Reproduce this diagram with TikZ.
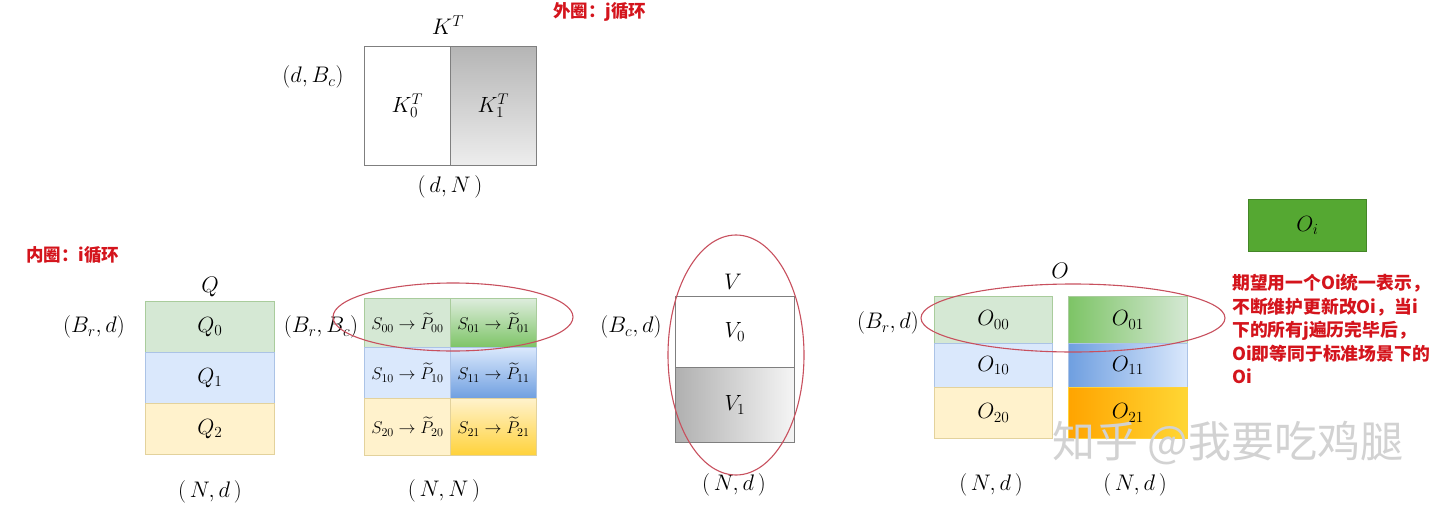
\RequirePackage{fix-cm}
\documentclass[tikz,border=0pt]{standalone}
\usepackage{amsmath}
\usepackage{fontspec}
\newfontfamily\cjk{Noto Sans CJK SC}
\usetikzlibrary{backgrounds}
\definecolor{qgreen}{HTML}{D5E8D4}
\definecolor{qblue}{HTML}{DAE8FC}
\definecolor{qyellow}{HTML}{FFF2CC}
\definecolor{edgegreen}{HTML}{A9CC9C}
\definecolor{edgeblue}{HTML}{ABC3E6}
\definecolor{edgeyellow}{HTML}{E3D29C}
\definecolor{deepgreen}{HTML}{7DC466}
\definecolor{deepblue}{HTML}{6F9FE0}
\definecolor{deepgold}{HTML}{FFD23A}
\definecolor{deeporange}{HTML}{FFA400}
\definecolor{oigreen}{HTML}{55A832}
\definecolor{ringred}{HTML}{C8505E}
\definecolor{notered}{HTML}{D4141C}
\definecolor{boxgray}{HTML}{7F7F7F}

\begin{document}
\begin{tikzpicture}[x=1pt,y=-1pt,
lbl/.style={font=\fontsize{22.5}{26}\selectfont,inner sep=1pt},cell/.style={draw,line width=0.8pt,anchor=north west,inner sep=0pt,font=\fontsize{22}{26}\selectfont},scell/.style={cell,font=\fontsize{17}{20}\selectfont},greencell/.style={fill=qgreen,draw=edgegreen},bluecell/.style={fill=qblue,draw=edgeblue},yellowcell/.style={fill=qyellow,draw=edgeyellow},graybox/.style={cell,draw=boxgray},ring/.style={draw=ringred,line width=1.1pt},note/.style={text=notered,font=\cjk\bfseries\fontsize{17.5}{20}\selectfont,inner sep=0pt,anchor=west},remark/.style={text=notered,font=\cjk\bfseries\fontsize{17.8}{23.5}\selectfont,align=left,inner sep=0pt,anchor=north west}]
\fill[white] (0,0) rectangle (1440,506);
\useasboundingbox (0,0) rectangle (1440,506);
% K^T, outer loop over j
\node[graybox,fill=white,minimum width=86,minimum height=119] (k0) at (364,46) {$K_0^T$};
\node[graybox,top color=gray!58,bottom color=gray!14,minimum width=86,minimum height=119] (k1) at (450,46) {$K_1^T$};
\node[lbl] (ktitle) at (448,25) {$K^T$};
\node[lbl] (kdim) at (313,77) {$(d,B_c)$};
\node[lbl] (kshape) at (450,187) {$(\,d,N\,)$};
\node[note] (outer) at (553,12) {外圈：j循环};
% Q, inner loop over i
\node[note] (inner) at (26,255) {内圈：i循环};
\node[lbl] (qtitle) at (210,287) {$Q$};
\node[cell,greencell,minimum width=129,minimum height=51] (q0) at (145,301) {$Q_0$};
\node[cell,bluecell,minimum width=129,minimum height=51] (q1) at (145,352) {$Q_1$};
\node[cell,yellowcell,minimum width=129,minimum height=51] (q2) at (145,403) {$Q_2$};
\node[lbl] (qdim) at (94,327) {$(B_r,d)$};
\node[lbl] (qshape) at (210,492) {$(\,N,d\,)$};
% S -> P tilde
\node[scell,greencell,minimum width=86,minimum height=49] (s00) at (364,298) {$S_{00}\rightarrow\widetilde{P}_{00}$};
\node[scell,bluecell,minimum width=86,minimum height=51] (s10) at (364,347) {$S_{10}\rightarrow\widetilde{P}_{10}$};
\node[scell,yellowcell,minimum width=86,minimum height=57] (s20) at (364,398) {$S_{20}\rightarrow\widetilde{P}_{20}$};
\node[scell,draw=edgegreen,top color=qgreen!80,bottom color=deepgreen,minimum width=86,minimum height=49] (s01) at (450,298) {$S_{01}\rightarrow\widetilde{P}_{01}$};
\node[scell,draw=edgeblue,top color=qblue,bottom color=deepblue,minimum width=86,minimum height=51] (s11) at (450,347) {$S_{11}\rightarrow\widetilde{P}_{11}$};
\node[scell,draw=edgeyellow,top color=qyellow,bottom color=deepgold,minimum width=86,minimum height=57] (s21) at (450,398) {$S_{21}\rightarrow\widetilde{P}_{21}$};
\node[lbl] (sdim) at (321,327) {$(B_r,B_c)$};
\node[lbl] (sshape) at (444,491) {$(\,N,N\,)$};
\draw[ring] (453,317) ellipse [x radius=120,y radius=34];
% V
\node[lbl] (vtitle) at (733,282) {$V$};
\node[graybox,fill=white,minimum width=119,minimum height=71] (v0) at (675,296) {$V_0$};
\node[graybox,left color=gray!62,right color=gray!8,minimum width=119,minimum height=75] (v1) at (675,367) {$V_1$};
\node[lbl] (vdim) at (631,327) {$(B_c,d)$};
\node[lbl] (vshape) at (734,485) {$(\,N,d\,)$};
\draw[ring] (736,355) ellipse [x radius=68,y radius=120];
% O blocks
\node[lbl] (otitle) at (1060,271) {$O$};
\node[cell,greencell,minimum width=118,minimum height=47] (o00) at (934,296) {$O_{00}$};
\node[cell,bluecell,minimum width=118,minimum height=44] (o10) at (934,343) {$O_{10}$};
\node[cell,yellowcell,minimum width=118,minimum height=51] (o20) at (934,387) {$O_{20}$};
\node[cell,draw=edgegreen,left color=deepgreen,right color=qgreen,minimum width=119,minimum height=47] (o01) at (1068,296) {$O_{01}$};
\node[cell,draw=edgeblue,left color=deepblue,right color=qblue,minimum width=119,minimum height=44] (o11) at (1068,343) {$O_{11}$};
\node[cell,draw=deepgold,left color=deeporange,right color=deepgold!90!yellow,minimum width=119,minimum height=51] (o21) at (1068,387) {$O_{21}$};
\node[lbl] (odim) at (888,323) {$(B_r,d)$};
\node[lbl] (oshape0) at (991,485) {$(\,N,d\,)$};
\node[lbl] (oshape1) at (1135,485) {$(\,N,d\,)$};
\draw[ring] (1073,318) ellipse [x radius=152,y radius=34];
% O_i kept across the j loop
\node[cell,fill=oigreen,draw=oigreen!80!black,minimum width=118,minimum height=52] (oi) at (1248,199) {$O_i$};
\node[remark] (explain) at (1232,274) {期望用一个Oi统一表示，\\不断维护更新改Oi，当i\\下的所有j遍历完毕后，\\Oi即等同于标准场景下的\\Oi};
\node[text=gray!35,font=\cjk\fontsize{43}{46}\selectfont,inner sep=0pt] (wm) at (1228,443) {知乎 @我要吃鸡腿};
\end{tikzpicture}
\end{document}
